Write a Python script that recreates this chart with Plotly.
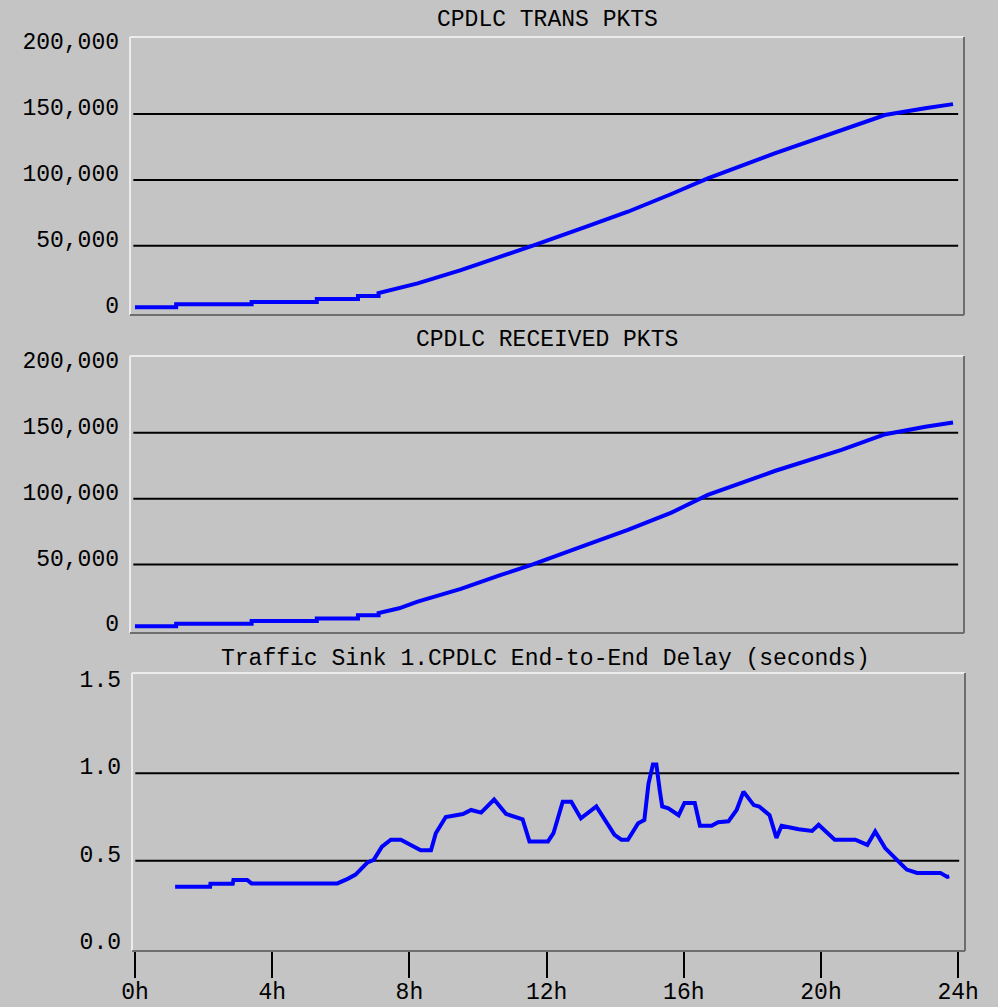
import plotly.graph_objects as go

# ---- data -------------------------------------------------------------
trans_hours = [0.0, 1.2, 1.2, 3.4, 3.4, 5.3, 5.3, 6.5, 6.5, 7.1, 7.1, 7.7,
               8.24, 9.5, 10.67, 11.6, 13.1, 14.37, 15.64, 16.7, 18.65,
               20.6, 21.87, 23.04, 23.85]
trans_pkts = [3200, 3200, 5500, 5500, 7200, 7200, 9500, 9500, 11800, 11800,
              14000, 17500, 21400, 31500, 41600, 50000, 64000, 75800, 89300,
              101200, 120200, 137400, 149300, 154400, 157600]

recv_hours = [0.0, 1.2, 1.2, 3.4, 3.4, 5.3, 5.3, 6.5, 6.5, 7.1, 7.1, 7.7,
              8.24, 9.5, 10.67, 11.6, 13.1, 14.37, 15.64, 16.7, 18.65,
              20.6, 21.87, 23.04, 23.85]
recv_pkts = [3000, 3000, 5000, 5000, 7000, 7000, 9000, 9000, 11400, 11400,
             13100, 16700, 21700, 31400, 42000, 50000, 64300, 76200, 89400,
             102800, 121000, 137000, 149000, 154700, 157800]

delay_hours = [1.17, 2.19, 2.2, 2.85, 2.87, 3.27, 3.4, 5.9, 6.2, 6.43, 6.78,
               6.96, 7.2, 7.46, 7.75, 8.13, 8.33, 8.63, 8.77, 9.06, 9.56,
               9.8, 10.09, 10.47, 10.82, 11.3, 11.5, 12.04, 12.2, 12.47,
               12.72, 13.0, 13.45, 13.98, 14.18, 14.37, 14.67, 14.85, 14.97,
               15.1, 15.2, 15.3, 15.37, 15.55, 15.85, 16.02, 16.32, 16.47,
               16.81, 17.0, 17.3, 17.54, 17.74, 18.04, 18.2, 18.5, 18.7,
               18.85, 19.05, 19.35, 19.74, 19.93, 20.4, 21.0, 21.35, 21.58,
               21.87, 22.08, 22.3, 22.5, 22.8, 23.48, 23.68, 23.74]
delay_secs = [0.35, 0.35, 0.368, 0.368, 0.39, 0.39, 0.37, 0.37, 0.396, 0.42,
              0.49, 0.505, 0.58, 0.62, 0.62, 0.58, 0.56, 0.56, 0.657, 0.75,
              0.767, 0.79, 0.775, 0.85, 0.767, 0.737, 0.61, 0.61, 0.657,
              0.837, 0.837, 0.742, 0.81, 0.648, 0.62, 0.62, 0.714, 0.733,
              0.94, 1.05, 1.05, 0.9, 0.81, 0.8, 0.76, 0.83, 0.83, 0.7, 0.7,
              0.72, 0.725, 0.79, 0.895, 0.818, 0.81, 0.76, 0.63, 0.70, 0.69,
              0.68, 0.67, 0.705, 0.62, 0.62, 0.59, 0.667, 0.572, 0.534,
              0.487, 0.449, 0.43, 0.43, 0.407, 0.41]

hour_ticks = [0, 4, 8, 12, 16, 20, 24]
hour_labels = ["0h", "4h", "8h", "12h", "16h", "20h", "24h"]
pkt_ticks = [0, 50000, 100000, 150000, 200000]
pkt_labels = ["0", "50,000", "100,000", "150,000", "200,000"]
pkt_grid = [50000, 100000, 150000]
delay_ticks = [0.0, 0.5, 1.0, 1.5]
delay_labels = ["0.0", "0.5", "1.0", "1.5"]
delay_grid = [0.5, 1.0]

titles = ["CPDLC TRANS PKTS", "CPDLC RECEIVED PKTS",
          "Traffic Sink 1.CPDLC End-to-End Delay (seconds)"]

# ---- styling ----------------------------------------------------------
W, H = 998, 1007
BG = "#c4c4c4"
FONT = "Liberation Mono, DejaVu Sans Mono, monospace"
BLUE = "#0000ff"


def ydom(top_px, bottom_px):
    return [1 - bottom_px / H, 1 - top_px / H]


fig = go.Figure()

fig.add_trace(go.Scatter(x=trans_hours, y=trans_pkts, mode="lines",
                         line=dict(color=BLUE, width=4), xaxis="x", yaxis="y"))
fig.add_trace(go.Scatter(x=recv_hours, y=recv_pkts, mode="lines",
                         line=dict(color=BLUE, width=4), xaxis="x2", yaxis="y2"))
fig.add_trace(go.Scatter(x=delay_hours, y=delay_secs, mode="lines",
                         line=dict(color=BLUE, width=4), xaxis="x3", yaxis="y3"))

tick_font = dict(family=FONT, size=23, color="#000000")

hidden_x = dict(showgrid=False, zeroline=False, showline=False,
                showticklabels=False, ticks="", range=[-0.146, 24.17],
                automargin=False)

pkt_y = dict(tickmode="array", tickvals=pkt_ticks, ticktext=pkt_labels,
             showgrid=False, zeroline=False, showline=False, ticks="",
             tickfont=tick_font, ticklabelstandoff=10, ticklabelshift=-7,
             automargin=False)

fig.update_layout(
    width=W, height=H,
    margin=dict(l=0, r=0, t=0, b=0),
    paper_bgcolor=BG, plot_bgcolor=BG,
    showlegend=False,
    xaxis=dict(domain=[130 / W, 964 / W], anchor="y", **hidden_x),
    xaxis2=dict(domain=[130 / W, 964 / W], anchor="y2", **hidden_x),
    xaxis3=dict(domain=[132 / W, 965 / W], anchor="y3",
                range=[-0.087, 24.198], automargin=False,
                tickmode="array", tickvals=hour_ticks, ticktext=hour_labels,
                ticks="outside", ticklen=26, tickwidth=2, tickcolor="#000000",
                ticklabelstandoff=-7,
                showgrid=False, zeroline=False, showline=False,
                tickfont=tick_font),
    yaxis=dict(domain=ydom(37, 315), anchor="x", range=[-2660, 208600], **pkt_y),
    yaxis2=dict(domain=ydom(356, 633), anchor="x2", range=[-2100, 208400], **pkt_y),
    yaxis3=dict(domain=ydom(673, 951), anchor="x3", range=[-0.017, 1.574],
                tickmode="array", tickvals=delay_ticks, ticktext=delay_labels,
                showgrid=False, zeroline=False, showline=False, ticks="",
                tickfont=tick_font, ticklabelstandoff=10, ticklabelshift=-7,
                automargin=False),
)

shapes = []
panels = [("x", "y", pkt_grid), ("x2", "y2", pkt_grid), ("x3", "y3", delay_grid)]
for xa, ya, grid in panels:
    xd, yd = xa + " domain", ya + " domain"
    # horizontal reference lines
    for g in grid:
        shapes.append(dict(type="line", xref=xd, yref=ya, x0=0.004, x1=0.993,
                           y0=g, y1=g, line=dict(color="#000000", width=2),
                           layer="below"))
    # bevelled panel frame: light top/left, dark bottom/right
    light = dict(color="#ececec", width=2)
    dark = dict(color="#6e6e6e", width=2)
    shapes.append(dict(type="line", xref=xd, yref=yd, x0=0, x1=1, y0=1, y1=1, line=light))
    shapes.append(dict(type="line", xref=xd, yref=yd, x0=0, x1=0, y0=0, y1=1, line=light))
    shapes.append(dict(type="line", xref=xd, yref=yd, x0=0, x1=1, y0=0, y1=0, line=dark))
    shapes.append(dict(type="line", xref=xd, yref=yd, x0=1, x1=1, y0=0, y1=1, line=dark))
fig.update_layout(shapes=shapes)

title_y = [20, 340, 659]
title_x = [547, 547, 545]
for t, tx, ty in zip(titles, title_x, title_y):
    fig.add_annotation(text=t, xref="paper", yref="paper", x=tx / W, y=1 - ty / H,
                       xanchor="center", yanchor="middle", showarrow=False,
                       font=dict(family=FONT, size=23, color="#000000"))

fig.write_html("out.html")
